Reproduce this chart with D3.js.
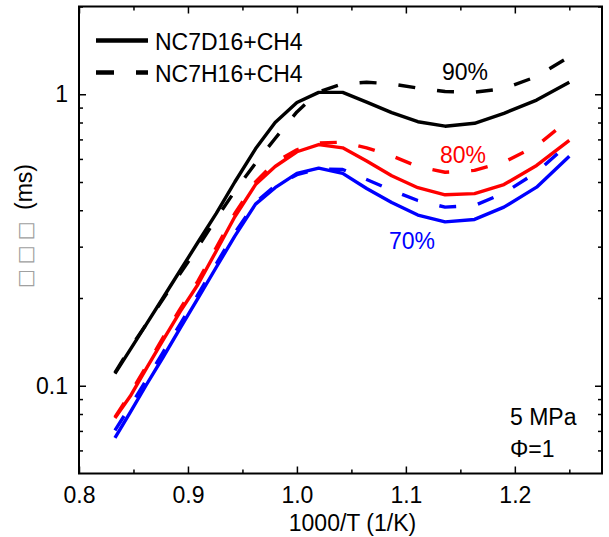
<!DOCTYPE html>
<html><head><meta charset="utf-8">
<script src="https://cdn.jsdelivr.net/npm/d3@7/dist/d3.min.js"></script>
<style>
body{margin:0;background:#fff}
text{font-family:"Liberation Sans",Arial,sans-serif}
</style>
</head><body>
<svg id="chart" width="609" height="537"></svg>
<script>
// ---- data ----
const invT = [0.833,0.847,0.862,0.877,0.893,0.909,0.926,0.943,0.962,0.980,1.000,1.020,1.042,1.064,1.087,1.111,1.136,1.163,1.190,1.220,1.250];
const d16_90 = [0.110,0.133,0.163,0.200,0.249,0.310,0.390,0.500,0.650,0.800,0.937,1.015,1.015,0.940,0.865,0.805,0.777,0.795,0.860,0.955,1.100];
const h16_90 = [0.111,0.135,0.163,0.198,0.243,0.298,0.375,0.465,0.580,0.705,0.870,1.020,1.085,1.100,1.085,1.050,1.022,1.017,1.045,1.150,1.345];
const d16_80 = [0.0775,0.092,0.115,0.143,0.180,0.222,0.290,0.380,0.490,0.565,0.635,0.672,0.655,0.590,0.525,0.478,0.452,0.456,0.490,0.570,0.695];
const h16_80 = [0.078,0.094,0.117,0.146,0.184,0.228,0.298,0.390,0.500,0.585,0.645,0.680,0.685,0.655,0.615,0.565,0.540,0.548,0.585,0.665,0.820];
const d16_70 = [0.0662,0.0811,0.101,0.125,0.158,0.199,0.255,0.326,0.420,0.478,0.535,0.558,0.535,0.475,0.425,0.385,0.365,0.372,0.410,0.480,0.613];
const h16_70 = [0.0703,0.085,0.105,0.130,0.163,0.205,0.262,0.335,0.425,0.485,0.530,0.555,0.552,0.510,0.468,0.432,0.410,0.415,0.458,0.540,0.680];
const legendNames = ["NC7D16+CH4","NC7H16+CH4"];
const pctLabels = ["90%","80%","70%"];
const colors = ["#000000","#ff0000","#0000ff"];
const xTicks = [0.8,0.9,1.0,1.1,1.2];
const xMinor = [0.85,0.95,1.05,1.15,1.25];
const yTicks = [0.1,1];
const yMinor = [0.06,0.07,0.08,0.09,0.2,0.3,0.4,0.5,0.6,0.7,0.8,0.9,2];
const xTitle = "1000/T (1/K)";
const yTitleBoxes = "\u25A1\u25A1\u25A1";
const yTitleUnit = " (ms)";
const condLines = ["5 MPa","\u03A6=1"];

const series = [
  {vals:d16_90, color:colors[0], dash:false},
  {vals:h16_90, color:colors[0], dash:true},
  {vals:d16_80, color:colors[1], dash:false},
  {vals:h16_80, color:colors[1], dash:true},
  {vals:d16_70, color:colors[2], dash:false},
  {vals:h16_70, color:colors[2], dash:true}
];

// ---- layout ----
const L=79, R=602, T=6.5, B=473.5;
const svg = d3.select("#chart");
const x = d3.scaleLinear().domain([0.8,1.28]).range([L,R]);
const y = d3.scaleLog().domain([0.05,2]).range([B,T]);
const FS = 23;
const DASH = "17,22";

const line = d3.line().x((d,i)=>x(invT[i])).y(d=>y(d));
const g = svg.append("g");
series.forEach(s=>{
  g.append("path").datum(s.vals).attr("d",line)
    .attr("fill","none").attr("stroke",s.color).attr("stroke-width",3.4)
    .attr("stroke-linejoin","round")
    .attr("stroke-dasharray",s.dash?DASH:null);
});

// axes (ticks inward on all sides)
function axisG(axis, tr){ return svg.append("g").attr("transform",tr).call(axis); }
const fmtX = d3.format(".1f");
const bx = axisG(d3.axisBottom(x).tickValues(xTicks).tickSizeInner(-7).tickSizeOuter(0).tickPadding(13).tickFormat(fmtX), `translate(0,${B})`);
axisG(d3.axisBottom(x).tickValues(xMinor).tickSizeInner(-4).tickSizeOuter(0).tickFormat(""), `translate(0,${B})`);
axisG(d3.axisTop(x).tickValues(xTicks).tickSizeInner(-7).tickSizeOuter(0).tickFormat(""), `translate(0,${T})`);
axisG(d3.axisTop(x).tickValues(xMinor).tickSizeInner(-4).tickSizeOuter(0).tickFormat(""), `translate(0,${T})`);
const ly = axisG(d3.axisLeft(y).tickValues(yTicks).tickSizeInner(-7).tickSizeOuter(0).tickPadding(11).tickFormat(d=>String(d)), `translate(${L},0)`);
axisG(d3.axisLeft(y).tickValues(yMinor).tickSizeInner(-4).tickSizeOuter(0).tickFormat(""), `translate(${L},0)`);
axisG(d3.axisRight(y).tickValues(yTicks).tickSizeInner(-7).tickSizeOuter(0).tickFormat(""), `translate(${R},0)`);
axisG(d3.axisRight(y).tickValues(yMinor).tickSizeInner(-4).tickSizeOuter(0).tickFormat(""), `translate(${R},0)`);
svg.selectAll(".domain").remove();
svg.selectAll(".tick line").attr("stroke","#000").attr("stroke-width",1.5);
svg.selectAll(".tick text").attr("font-size",FS).attr("fill","#000").attr("font-family",'"Liberation Sans",Arial,sans-serif');
bx.selectAll(".tick text").attr("dy","0.71em");
svg.append("rect").attr("x",L).attr("y",T).attr("width",R-L).attr("height",B-T)
  .attr("fill","none").attr("stroke","#000").attr("stroke-width",2);

// axis titles
svg.append("text").attr("x",(L+R)/2+12).attr("y",531).attr("text-anchor","middle")
  .attr("font-size",FS).text(xTitle);
const yt = svg.append("text").attr("transform","translate(32,226) rotate(-90)")
  .attr("text-anchor","middle").attr("font-size",FS);
yt.append("tspan").attr("fill","#a0a0a0").attr("font-family","DejaVu Sans").attr("font-size",20).attr("letter-spacing",5).text(yTitleBoxes);
yt.append("tspan").attr("fill","#000").text(yTitleUnit);

// legend
const lg = svg.append("g");
[[40.5,false],[72.5,true]].forEach(([ly_,dash],i)=>{
  lg.append("line").attr("x1",96).attr("x2",148).attr("y1",ly_).attr("y2",ly_)
    .attr("stroke","#000").attr("stroke-width",4.5).attr("stroke-dasharray",dash?"18,22":null);
  lg.append("text").attr("x",155).attr("y",ly_+9).attr("font-size",FS).text(legendNames[i]);
});

// percentage labels
const pctPos = [[465,80],[463,163],[412,249]];
pctLabels.forEach((t,i)=>{
  svg.append("text").attr("x",pctPos[i][0]).attr("y",pctPos[i][1]).attr("text-anchor","middle")
    .attr("font-size",FS).attr("fill",colors[i]).text(t);
});

// conditions
condLines.forEach((t,i)=>{
  svg.append("text").attr("x",510).attr("y",425+i*32).attr("font-size",FS).text(t);
});
</script>
</body></html>
